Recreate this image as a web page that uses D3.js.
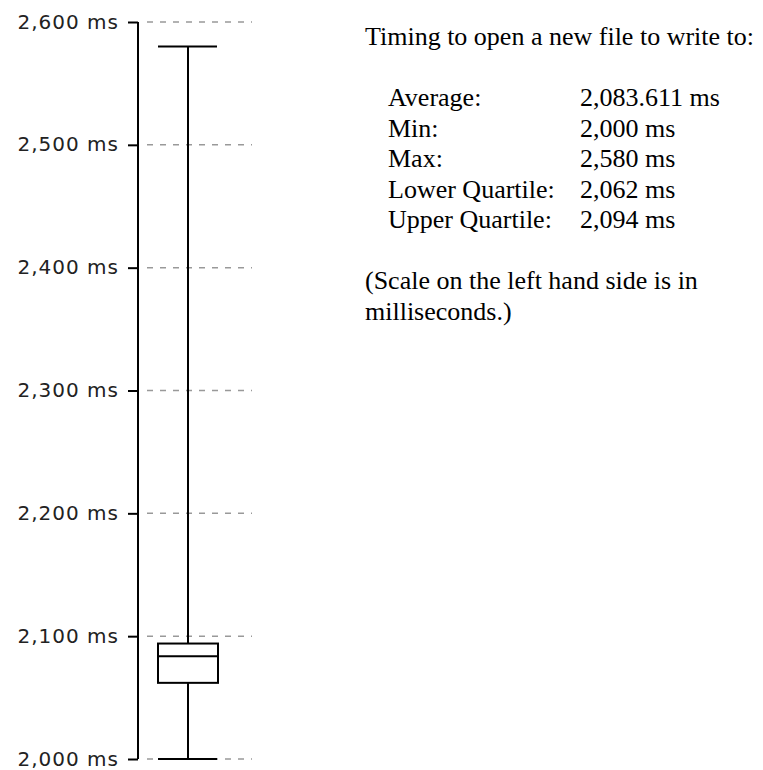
<!DOCTYPE html>
<html>
<head>
<meta charset="utf-8">
<script src="https://cdn.jsdelivr.net/npm/d3@7.9.0/dist/d3.min.js"></script>
<style>
  html, body { margin: 0; padding: 0; background: #fff; }
  svg { display: block; }
  .tick-label { font-family: "DejaVu Sans", sans-serif; font-size: 20px; letter-spacing: 1px; fill: #222; }
  .info { font-family: "Liberation Serif", "Times New Roman", serif; font-size: 26px; fill: #000; }
</style>
</head>
<body>
<svg id="chart" width="763" height="770"></svg>
<script>
// timing values, ms
const minVal = 2000;
const maxVal = 2580;
const lowerQuartile = 2062;
const upperQuartile = 2094;
const average = 2083.611;

const tickValues = [2000, 2100, 2200, 2300, 2400, 2500, 2600];

const statLabels = ['Average:', 'Min:', 'Max:', 'Lower Quartile:', 'Upper Quartile:'];
const statValues = [average, minVal, maxVal, lowerQuartile, upperQuartile];

const titleText = 'Timing to open a new file to write to:';
const noteLines = ['(Scale on the left hand side is in', 'milliseconds.)'];

const svg = d3.select('#chart');

const y = d3.scaleLinear().domain([2000, 2600]).range([759, 22]);

const axisX = 138;
const gridEnd = 252;
const boxX = d3.scaleBand().domain(['open']).range([158, 218]);
const cx = boxX('open') + boxX.bandwidth() / 2;

// dashed grid lines
svg.append('g')
  .selectAll('line')
  .data(tickValues)
  .join('line')
  .attr('x1', axisX + 3)
  .attr('x2', gridEnd)
  .attr('y1', (d) => y(d))
  .attr('y2', (d) => y(d))
  .attr('stroke', '#999')
  .attr('stroke-width', 1.5)
  .attr('stroke-dasharray', '6,7')
  .attr('stroke-dashoffset', -6);

// left axis
const axis = d3.axisLeft(y)
  .tickValues(tickValues)
  .tickSize(10)
  .tickPadding(9)
  .tickFormat((d) => d3.format(',')(d) + ' ms');

const axisG = svg.append('g')
  .attr('transform', `translate(${axisX},0)`)
  .call(axis);

axisG.attr('font-size', null).attr('font-family', null);
axisG.select('.domain')
  .attr('d', `M0,${y(2600)}V${y(2000)}`)
  .attr('stroke', '#000')
  .attr('stroke-width', 2);
axisG.selectAll('.tick line').attr('stroke', '#000').attr('stroke-width', 2);
axisG.selectAll('.tick text')
  .attr('class', 'tick-label')
  .attr('dy', '0.3em');

// box plot
const bp = svg.append('g')
  .attr('stroke', '#000')
  .attr('stroke-width', 2)
  .attr('fill', 'none');

bp.append('line')
  .attr('x1', cx).attr('x2', cx)
  .attr('y1', y(maxVal)).attr('y2', y(upperQuartile));
bp.append('line')
  .attr('x1', cx).attr('x2', cx)
  .attr('y1', y(lowerQuartile)).attr('y2', y(minVal));

[minVal, maxVal].forEach((v) => {
  bp.append('line')
    .attr('x1', boxX('open')).attr('x2', boxX('open') + boxX.bandwidth() - 1)
    .attr('y1', y(v)).attr('y2', y(v));
});

bp.append('rect')
  .attr('x', boxX('open'))
  .attr('y', y(upperQuartile))
  .attr('width', boxX.bandwidth())
  .attr('height', y(lowerQuartile) - y(upperQuartile))
  .attr('fill', '#fff');

bp.append('line')
  .attr('x1', boxX('open')).attr('x2', boxX('open') + boxX.bandwidth())
  .attr('y1', y(average)).attr('y2', y(average));

// text block on the right
const info = svg.append('g');
const lineH = 30.5;

info.append('text')
  .attr('class', 'info')
  .attr('x', 365)
  .attr('y', 45)
  .text(titleText);

const fmtAvg = d3.format(',.3f');
const fmtInt = d3.format(',');

statLabels.forEach((label, i) => {
  const yy = 106 + i * lineH;
  info.append('text').attr('class', 'info').attr('x', 388).attr('y', yy).text(label);
  const v = statValues[i];
  const s = (Number.isInteger(v) ? fmtInt(v) : fmtAvg(v)) + ' ms';
  info.append('text').attr('class', 'info').attr('x', 580).attr('y', yy).text(s);
});

noteLines.forEach((t, i) => {
  info.append('text')
    .attr('class', 'info')
    .attr('x', 365)
    .attr('y', 106 + 6 * lineH + i * lineH)
    .text(t);
});
</script>
</body>
</html>
